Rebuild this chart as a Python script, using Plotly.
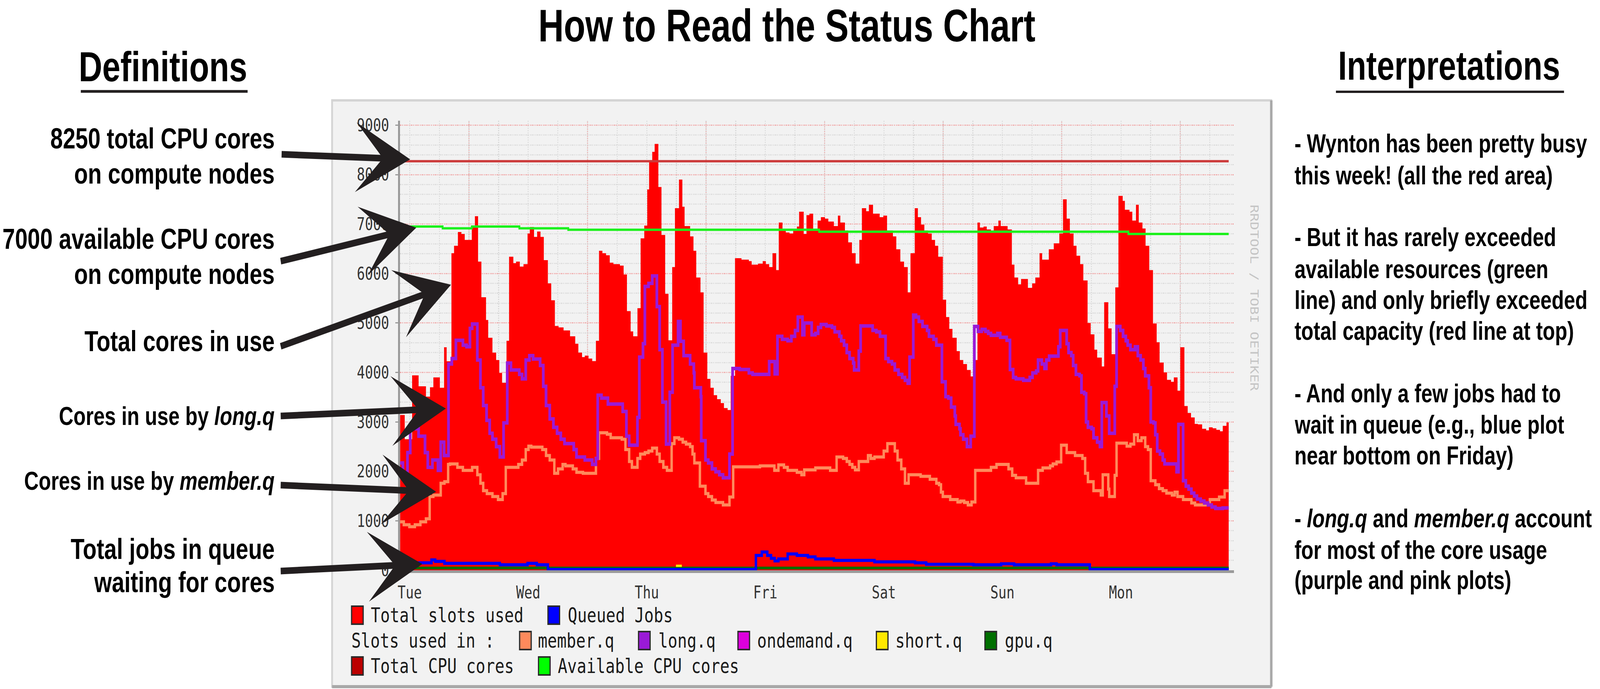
import plotly.graph_objects as go

W, H = 5247, 1764

# ---- values (hours from Tuesday 00:00, cores) ----
days = ["Tue", "Wed", "Thu", "Fri", "Sat", "Sun", "Mon"]
day_hours = [0, 24, 48, 72, 96, 120, 144]
noon_hours = [12, 36, 60, 84, 108, 132, 156]
y_ticks = [0, 1000, 2000, 3000, 4000, 5000, 6000, 7000, 8000, 9000]

start_hour = -1.95
end_hour = 165.81
grid_end_hour = 166.9
y_top = 9090

total_hours = [
    -1.95, -1.01, 0.49, 1.80, 3.29, 4.11, 4.79, 6.10, 6.96, 7.48, 8.45, 8.98, 9.76, 10.47,
    11.14, 12.57, 13.20, 13.84, 14.51, 15.45, 15.89, 16.75, 17.50, 18.14, 18.70, 19.60,
    20.12, 20.98, 21.54, 22.29, 23.04, 23.86, 24.31, 25.17, 25.80, 26.48, 27.15, 27.97,
    28.65, 29.39, 30.14, 31.15, 32.46, 33.51, 34.14, 34.89, 35.45, 36.20, 36.95, 37.70,
    38.33, 39.01, 39.75, 40.50, 41.25, 42.56, 43.31, 43.98, 44.73, 45.25, 46.11, 46.75,
    47.49, 48.09, 48.47, 49.10, 49.59, 50.34, 50.97, 51.72, 52.39, 53.14, 53.70, 54.52,
    55.20, 55.65, 56.77, 57.45, 58.01, 58.87, 59.50, 60.25, 60.89, 61.56, 62.23, 62.98,
    63.62, 64.36, 65.00, 65.86, 67.17, 68.66, 69.23, 70.53, 71.47, 72.10, 72.78, 73.45,
    74.20, 74.72, 75.47, 76.14, 76.89, 77.64, 78.39, 78.84, 79.77, 80.33, 80.93, 81.68,
    82.58, 83.25, 84.07, 84.75, 85.87, 86.69, 87.18, 88.11, 88.78, 89.53, 90.28, 91.03,
    91.55, 92.41, 92.97, 93.80, 95.14, 95.89, 96.64, 97.83, 98.51, 99.33, 100.08, 100.83,
    101.39, 102.25, 102.88, 103.52, 104.19, 104.94, 105.69, 106.36, 107.00, 107.93, 108.60,
    109.24, 109.88, 110.74, 111.37, 112.07, 112.82, 113.57, 114.13, 114.95, 115.44, 116.18,
    116.82, 117.68, 118.24, 119.18, 119.66, 121.05, 121.91, 122.43, 123.18, 123.78, 125.16,
    126.02, 126.66, 127.52, 128.04, 129.39, 130.40, 131.52, 132.27, 133.01, 133.65, 134.40,
    135.00, 135.74, 136.38, 137.24, 137.87, 138.62, 139.18, 140.12, 140.60, 141.43, 142.10,
    142.85, 143.49, 144.35, 144.79, 145.73, 146.29, 147.04, 147.60, 148.35, 148.98, 149.73,
    150.48, 151.23, 151.82, 152.65, 153.32, 154.14, 154.70, 155.45, 156.01, 156.84, 157.51,
    158.18, 158.93, 159.57, 160.43, 161.25, 161.81, 162.56, 163.31, 164.05, 164.61, 165.36,
]
total_cores = [
    3140, 2650, 3940, 3720, 3510, 3700, 3900, 3690, 4510, 4225, 6410, 6560, 6840, 6800,
    6680, 6930, 7160, 6240, 5520, 5060, 4700, 4400, 4250, 3990, 3790, 4640,
    6340, 6210, 6240, 6140, 6190, 6810, 6940, 6740, 6850, 6740, 6270, 5800,
    5460, 4940, 4910, 4850, 4730, 4580, 4400, 4310, 4340, 4280, 4230, 4640,
    6460, 6410, 6370, 6220, 6190, 6160, 5980, 5240, 4830, 4730, 5300, 6710,
    6970, 7700, 8270, 8460, 8620, 7750, 6780, 5590, 4650, 6130, 7320, 7900,
    7350, 6960, 6750, 6460, 5920, 5620, 4400, 3870, 3690, 3540, 3460, 3380,
    3280, 3240, 3930, 6310, 6280, 6250, 6180, 6200, 6250, 6190, 6130, 6410,
    6070, 7030, 6900, 6830, 6810, 6870, 6950, 7250, 6800, 7180, 7210, 6870,
    7070, 7140, 7110, 7050, 6960, 7170, 7030, 6870, 6630, 6410, 6200, 6680,
    7320, 7260, 7390, 7210, 7140, 7170, 6870, 6750, 6490, 6240, 6130, 5620,
    6410, 7320, 7140, 6990, 6870, 6810, 6680, 6560, 6340, 5470, 5120,
    4880, 4700, 4430, 4250, 4170, 4050, 3920, 4250, 7030, 6930, 6950,
    6890, 6870, 6960, 7070, 6960, 6890, 6180, 5920, 5780, 5890, 5710,
    5800, 5920, 6410, 6280, 6490, 6610, 6810, 7500, 7110, 6810, 6560,
    6360, 6190, 5860, 5000, 4770, 4460, 4300, 4120, 5420, 4890, 4370,
    5720, 7570, 7470, 7290, 7250, 7070, 7390, 7030, 6910, 6560, 6070,
    4990, 4610, 4200, 4000, 3850, 3810, 3900, 3630, 4510, 3320, 3180,
    3090, 2960, 2950, 2860, 2830, 2890, 2870, 2840, 2810, 2920, 2990,
]

long_hours = [
    -1.95, -1.38, -0.45, 0.11, 1.05, 1.80, 3.10, 3.66, 4.60, 5.72, 6.28, 6.96, 7.85, 8.53,
    9.35, 10.77, 11.52, 12.19, 12.64, 13.69, 14.32, 14.88, 15.56, 16.19, 16.75, 17.50,
    18.25, 19.00, 19.75, 20.49, 22.18, 22.74, 23.49, 24.23, 24.98, 26.40, 27.04, 27.60,
    28.35, 29.09, 29.84, 30.59, 31.34, 33.21, 33.77, 35.45, 36.95, 37.70, 38.07, 38.82,
    40.13, 43.12, 43.87, 44.43, 46.11, 46.48, 47.23, 47.61, 48.35, 49.10, 50.04, 50.60,
    51.16, 51.91, 52.65, 53.22, 54.34, 54.82, 55.46, 56.77, 57.52, 57.63, 58.94, 59.02,
    59.88, 60.44, 61.19, 61.93, 62.68, 63.43, 64.74, 65.37, 66.80, 68.66, 69.41, 72.78,
    73.90, 74.46, 75.40, 76.52, 77.27, 78.01, 78.58, 79.51, 79.88, 81.38, 82.13, 82.69,
    83.25, 84.37, 85.49, 86.05, 86.99, 87.36, 87.93, 88.48, 89.05, 89.79, 89.98, 90.92,
    91.29, 93.72, 94.47, 95.22, 96.34, 96.90, 97.65, 98.21, 98.96, 99.70, 100.27, 100.83,
    101.20, 101.95, 102.51, 103.07, 103.82, 104.75, 105.13, 106.06, 106.62, 107.75, 108.49,
    109.05, 109.62, 110.36, 110.55, 111.30, 111.51, 112.07, 112.82, 113.57, 114.31, 115.06,
    115.81, 116.56, 117.12, 117.68, 118.99, 119.55, 120.86, 121.53, 122.17, 122.73, 124.22,
    125.53, 126.09, 126.84, 127.22, 127.97, 128.53, 128.90, 129.46, 131.33, 131.70, 133.01,
    133.39, 133.95, 134.32, 134.88, 135.63, 136.00, 136.57, 136.94, 137.31, 138.06, 138.44,
    139.18, 139.75, 140.12, 141.05, 141.62, 142.74, 143.11, 143.86, 144.42, 144.98, 145.36,
    145.92, 146.85, 147.41, 147.98, 148.53, 148.91, 149.66, 150.03, 150.59, 150.96, 151.34,
    151.90, 152.46, 152.83, 155.26, 155.64, 156.58, 157.13, 157.70, 158.26, 158.82, 159.38,
    160.13, 160.87, 161.62, 162.37, 163.12, 164.61,
]
long_cores = [
    2170, 1930, 2380, 2950, 2860, 2710, 2380, 2080, 2230, 2020, 2590, 2320, 4170, 4280,
    4650, 4550, 4520, 4890, 4980, 4250, 3690, 3330, 3030, 2770, 2650, 2500,
    2290, 2980, 4190, 4050, 3960, 3870, 4250, 4340, 4270, 4140, 3720, 3330,
    3060, 2890, 2770, 2650, 2560, 2440, 2290, 2230, 2140, 2260, 3540, 3480,
    3360, 3210, 2710, 2530, 3090, 4310, 4580, 5740, 5800, 5950, 5330, 4460,
    3400, 2550, 3600, 4550, 5030, 4630, 4340, 4170, 3990, 3690, 3510, 2620,
    2230, 2170, 2050, 1990, 1930, 1870, 2350, 4080, 4060, 3990, 3960, 4220,
    3970, 4730, 4670, 4640, 4730, 4850, 5120, 4760, 5000, 4760, 4790, 4910,
    4970, 4940, 4910, 4820, 4730, 4640, 4550, 4400, 4280, 4190, 4050, 4430,
    4940, 4850, 4820, 4730, 4280, 4220, 4170, 4050, 3960, 3900, 3840, 3780,
    4310, 5160, 5120, 5030, 4930, 4850, 4730, 4670, 4550, 3810, 3510,
    3480, 3300, 3120, 2950, 2860, 2740, 2650, 2500, 2710, 4930, 4830,
    4870, 4830, 4790, 4750, 4790, 4710, 4650, 4060, 3900, 3870, 3840,
    3900, 3990, 4030, 4250, 4170, 4080, 4250, 4330, 4520, 4850, 4580,
    4400, 4340, 4140, 3960, 3930, 3600, 3570, 3000, 2890, 2860, 2680,
    2590, 2500, 3390, 3120, 2770, 3720, 4930, 4850, 4730, 4640, 4550,
    4460, 4520, 4340, 4250, 4080, 3930, 3690, 3000, 2980, 2740, 2410,
    2350, 2230, 2150, 1990, 2950, 1810, 1700, 1640, 1560, 1500, 1440,
    1400, 1360, 1320, 1280, 1250, 1260,
]

member_hours = [
    -1.95, -1.20, -0.07, 1.05, 2.17, 3.29, 4.04, 4.79, 6.28, 7.03, 7.78, 8.15, 9.65, 10.77,
    12.64, 13.69, 14.32, 14.88, 15.63, 16.75, 17.88, 18.81, 19.45, 21.99, 22.74, 23.49,
    24.05, 24.61, 26.85, 27.60, 28.35, 29.28, 30.03, 30.96, 31.53, 33.02, 33.77, 35.08,
    37.70, 38.33, 39.94, 40.69, 42.93, 43.68, 44.43, 44.99, 46.11, 46.67, 47.61, 48.35,
    49.10, 50.04, 50.60, 51.35, 52.09, 53.03, 53.59, 54.52, 55.27, 55.95, 56.77, 57.26,
    57.63, 58.75, 59.88, 60.44, 61.19, 61.93, 63.43, 64.74, 65.49, 70.91, 73.83, 74.65,
    75.77, 76.52, 78.39, 79.32, 79.88, 82.13, 85.12, 86.43, 87.74, 88.49, 89.05, 89.61,
    90.17, 90.92, 92.79, 93.35, 94.10, 95.97, 96.71, 98.21, 98.77, 99.52, 100.27, 101.01,
    103.44, 105.31, 106.62, 107.18, 107.56, 107.93, 109.43, 110.92, 111.51, 112.26, 113.01,
    113.75, 114.50, 117.68, 118.80, 121.23, 121.98, 122.73, 124.79, 127.22, 128.15, 129.65,
    130.21, 130.96, 131.89, 133.01, 134.70, 136.19, 136.75, 137.31, 138.44, 139.93, 140.31,
    141.43, 141.62, 142.74, 143.11, 145.17, 145.92, 146.66, 147.41, 148.16, 148.91, 149.47,
    150.03, 150.96, 151.71, 152.46, 153.21, 154.33, 154.89, 155.45, 156.58, 158.26, 159.00,
    162.00, 163.87, 164.99,
]
member_cores = [
    980, 920, 880, 920, 980, 1040, 1490, 1520, 1760, 1790, 2140, 2150, 2080, 2020,
    2080, 1930, 1760, 1610, 1550, 1490, 1430, 1550, 2080, 2140, 2230, 2440,
    2510, 2490, 2440, 2320, 2230, 1960, 2050, 2140, 2110, 2050, 1980, 1960,
    2260, 2780, 2750, 2680, 2650, 2440, 2200, 2080, 2260, 2350, 2380, 2410,
    2470, 2350, 2200, 2080, 2020, 2560, 2680, 2650, 2590, 2550, 2500, 2350,
    2170, 1700, 1550, 1490, 1420, 1370, 1320, 1480, 2090, 2110, 2020, 2130,
    2080, 2020, 1980, 1930, 2030, 2070, 2020, 2290, 2260, 2200, 2140, 2080,
    2030, 2200, 2320, 2260, 2290, 2410, 2560, 2410, 2230, 2050, 1760, 1930,
    1900, 1840, 1760, 1730, 1580, 1490, 1430, 1380, 1400, 1370, 1320,
    1380, 2020, 2080, 2140, 2050, 1920, 1870, 1760, 2020, 2070, 2110,
    2150, 2190, 2530, 2380, 2320, 2260, 1960, 1790, 1610, 1520, 1930,
    1640, 1490, 1920, 2570, 2510, 2550, 2740, 2620, 2680, 2500, 2440,
    1810, 1730, 1650, 1610, 1560, 1520, 1580, 1490, 1430, 1360, 1320,
    1430, 1480, 1610,
]

queued_hours = [
    -1.95, 4.41, 5.16, 7.03, 18.25, 23.86, 25.73, 27.97, 70.09, 71.28, 72.40, 73.15, 73.90,
    74.65, 76.52, 78.39, 80.63, 82.13, 85.87, 94.10, 102.32, 104.57, 114.13, 119.74, 122.36,
    129.84, 130.96, 137.69,
]
queued_jobs = [
    150, 210, 180, 140, 110, 140, 110, 15, 300, 370, 300, 240, 190,
    230, 330, 300, 270, 230, 200, 170, 150, 120, 110, 130, 110,
    130, 110, 15,
]

avail_hours = [-1.95, 6.66, 12.57, 22.2, 32.1, 82.9, 145.5]
avail_cores = [6950, 6915, 6950, 6915, 6885, 6845, 6800]

total_cpu_cores = 8270
gpu_cores = 45
short_hours = [53.9, 55.1]
short_cores = [90, 90]

colors = {
    "total": "#ff0000", "queued": "#0000ff", "member": "#ff8a5c", "long": "#9a1ad6",
    "ondemand": "#dd00dd", "short": "#ffe800", "gpu": "#006f00",
    "total_cpu": "#bb0000", "avail": "#00ff00",
}

TXT = "Liberation Sans, Arial, sans-serif"
MONO = "DejaVu Sans Mono, monospace"


def px(x):
    return x / W


def py(y):
    return 1 - y / H


def stairs(hours, values):
    return hours + [end_hour], values + [values[-1]]


fig = go.Figure()

x, y = stairs(total_hours, total_cores)
fig.add_trace(go.Scatter(x=x, y=y, mode="lines", line=dict(shape="hv", width=0, color=colors["total"]),
                         fill="tozeroy", fillcolor=colors["total"]))
fig.add_trace(go.Scatter(x=[start_hour, end_hour], y=[gpu_cores, gpu_cores], mode="lines",
                         line=dict(color=colors["gpu"], width=7)))
fig.add_trace(go.Scatter(x=short_hours, y=short_cores, mode="lines",
                         line=dict(color=colors["short"], width=6)))
x, y = stairs(member_hours, member_cores)
fig.add_trace(go.Scatter(x=x, y=y, mode="lines", line=dict(shape="hv", width=8, color=colors["member"])))
x, y = stairs(long_hours, long_cores)
fig.add_trace(go.Scatter(x=x, y=y, mode="lines", line=dict(shape="hv", width=9, color=colors["long"])))
x, y = stairs(queued_hours, queued_jobs)
fig.add_trace(go.Scatter(x=x, y=y, mode="lines", line=dict(shape="hv", width=8, color=colors["queued"])))
fig.add_trace(go.Scatter(x=[start_hour, end_hour], y=[total_cpu_cores, total_cpu_cores], mode="lines",
                         line=dict(color="#cc3a3a", width=6)))
x, y = stairs(avail_hours, avail_cores)
fig.add_trace(go.Scatter(x=x, y=y, mode="lines", line=dict(shape="hv", width=6, color="#1cf01c")))

# axis arrow heads
fig.add_trace(go.Scatter(x=[start_hour, grid_end_hour + 0.9], y=[y_top + 80, 0], mode="markers",
                         marker=dict(symbol=["triangle-up", "triangle-right"], size=24, color="#8b1a1a"),
                         cliponaxis=False))

# frame behind the rrd graph
fig.add_shape(type="rect", xref="paper", yref="paper", x0=px(1089), x1=px(4169), y0=py(1758), y1=py(257),
              fillcolor="#f2f2f2", line=dict(color="#d4d4d4", width=6), layer="below")
fig.add_shape(type="line", xref="paper", yref="paper", x0=px(4169), x1=px(4169), y0=py(1758), y1=py(257),
              line=dict(color="#a8a8a8", width=8), layer="below")
fig.add_shape(type="line", xref="paper", yref="paper", x0=px(1089), x1=px(4169), y0=py(1758), y1=py(1758),
              line=dict(color="#a8a8a8", width=8), layer="below")

# red dotted major grid at noon
for h in noon_hours:
    fig.add_shape(type="line", xref="x", yref="y", x0=h, x1=h, y0=0, y1=y_top,
                  line=dict(color="#f0a0a0", width=3, dash="dot"), layer="below")

fig.update_layout(
    width=W, height=H, autosize=False,
    margin=dict(l=0, r=0, t=0, b=0, pad=0, autoexpand=False),
    paper_bgcolor="white", plot_bgcolor="white", showlegend=False,
    xaxis=dict(
        domain=[px(1312), px(4047)], range=[start_hour, grid_end_hour],
        tickvals=day_hours, ticktext=days, ticks="", ticklabelstandoff=12,
        tickfont=dict(family=MONO, size=44, color="#333333"),
        showgrid=True, gridcolor="#d8d8d8", griddash="dot", gridwidth=3,
        minor=dict(dtick=6, tick0=0, showgrid=True, gridcolor="#d8d8d8", griddash="dot", gridwidth=3),
        showline=True, linecolor="#9a9a9a", linewidth=7, zeroline=False,
    ),
    yaxis=dict(
        domain=[py(1460), py(309)], range=[0, y_top],
        tickvals=y_ticks, ticktext=[str(v) for v in y_ticks],
        ticks="outside", ticklen=8, tickwidth=3, tickcolor="#9a9a9a", ticklabelstandoff=12,
        tickfont=dict(family=MONO, size=44, color="#333333"),
        showgrid=True, gridcolor="#f0a0a0", griddash="dot", gridwidth=3,
        minor=dict(dtick=200, tick0=0, showgrid=True, gridcolor="#d8d8d8", griddash="dot", gridwidth=3),
        showline=True, linecolor="#9a9a9a", linewidth=7, zeroline=False,
    ),
)

# watermark
fig.add_annotation(x=px(4136), y=py(522), xref="paper", yref="paper", text="RRDTOOL / TOBI OETIKER",
                   textangle=90, showarrow=False, font=dict(family=MONO, size=36, color="#c4c4c4"))

# rrd legend
legend_rows = [
    (1575, [("total", 1153, 1218, "Total slots used"), ("queued", 1797, 1864, "Queued Jobs")]),
    (1640, [("member", 1704, 1766, "member.q"), ("long", 2094, 2161, "long.q"),
            ("ondemand", 2420, 2485, "ondemand.q"), ("short", 2874, 2938, "short.q"),
            ("gpu", 3230, 3297, "gpu.q")]),
    (1705, [("total_cpu", 1153, 1218, "Total CPU cores"), ("avail", 1766, 1831, "Available CPU cores")]),
]
fig.add_annotation(x=px(1150), y=py(1640), xref="paper", yref="paper", text="Slots used in :",
                   xanchor="left", yanchor="middle", showarrow=False,
                   font=dict(family=MONO, size=52, color="#1a1a1a"))
for yc, entries in legend_rows:
    for key, bx, tx, label in entries:
        fig.add_shape(type="rect", xref="paper", yref="paper", x0=px(bx), x1=px(bx + 38),
                      y0=py(yc + 23), y1=py(yc - 23), fillcolor=colors[key],
                      line=dict(color="#2a2a2a", width=4))
        fig.add_annotation(x=px(tx - 4), y=py(yc), xref="paper", yref="paper", text=label,
                           xanchor="left", yanchor="middle", showarrow=False,
                           font=dict(family=MONO, size=52, color="#1a1a1a"))

# headings
fig.add_annotation(x=px(2580), y=1, xref="paper", yref="paper", text="<b>How to Read the Status Chart</b>",
                   showarrow=False, xanchor="center", yanchor="top", borderpad=0,
                   font=dict(family=TXT, size=116, color="black"))
fig.add_annotation(x=px(534), y=py(171), xref="paper", yref="paper", text="<b>Definitions</b>",
                   showarrow=False, xanchor="center", yanchor="middle", font=dict(family=TXT, size=107, color="black"))
fig.add_annotation(x=px(4752), y=py(168), xref="paper", yref="paper", text="<b>Interpretations</b>",
                   showarrow=False, xanchor="center", yanchor="middle", font=dict(family=TXT, size=104, color="black"))
fig.add_shape(type="line", xref="paper", yref="paper", x0=px(265), x1=px(812), y0=py(234), y1=py(234),
              line=dict(color="#231f20", width=7))
fig.add_shape(type="line", xref="paper", yref="paper", x0=px(4381), x1=px(5129), y0=py(235), y1=py(235),
              line=dict(color="#231f20", width=6))

# definitions on the left
left_lines = [
    ("8250 total CPU cores", 355, 74), ("on compute nodes", 444, 74),
    ("7000 available CPU cores", 611, 74), ("on compute nodes", 701, 74),
    ("Total cores in use", 873, 74),
    ("Cores in use by <i>long.q</i>", 1065, 66),
    ("Cores in use by <i>member.q</i>", 1231, 66),
    ("Total jobs in queue", 1405, 74), ("waiting for cores", 1490, 74),
]
for text, yc, size in left_lines:
    fig.add_annotation(x=px(903), y=py(yc), xref="paper", yref="paper", text="<b>" + text + "</b>",
                       showarrow=False, xanchor="right", yanchor="middle",
                       font=dict(family=TXT, size=size, color="black"))

arrows = [
    (922, 395, 1345, 408), (919, 669, 1365, 583), (919, 887, 1479, 729),
    (919, 1065, 1462, 1046), (919, 1242, 1430, 1259), (919, 1462, 1385, 1444),
]
for tx, ty, hx, hy in arrows:
    fig.add_annotation(x=px(hx), y=py(hy), xref="paper", yref="paper", ax=tx - hx, ay=ty - hy,
                       axref="pixel", ayref="pixel", text="", showarrow=True, arrowhead=3,
                       arrowsize=1.75, arrowwidth=17, arrowcolor="#231f20", standoff=0)

# interpretations on the right
right_lines = [
    ("- Wynton has been pretty busy", 367), ("this week! (all the red area)", 449),
    ("- But it has rarely exceeded", 607), ("available resources (green", 689),
    ("line) and only briefly exceeded", 768), ("total capacity (red line at top)", 847),
    ("- And only a few jobs had to", 1007), ("wait in queue (e.g., blue plot", 1087),
    ("near bottom on Friday)", 1166),
    ("- <i>long.q</i> and <i>member.q</i> account", 1327), ("for most of the core usage", 1408),
    ("(purple and pink plots)", 1485),
]
for text, yc in right_lines:
    fig.add_annotation(x=px(4243), y=py(yc), xref="paper", yref="paper", text="<b>" + text + "</b>",
                       showarrow=False, xanchor="left", yanchor="middle",
                       font=dict(family=TXT, size=66, color="black"))

# stretch the fixed-size figure over the whole browser viewport
fit_js = """
var gd = document.getElementById('{plot_id}');
var sx = window.innerWidth / %d, sy = window.innerHeight / %d;
document.documentElement.style.overflow = 'hidden';
document.body.style.margin = '0';
document.body.style.overflow = 'hidden';
document.body.style.width = window.innerWidth + 'px';
document.body.style.height = window.innerHeight + 'px';
gd.style.transformOrigin = '0 0';
gd.style.transform = 'scale(' + sx + ',' + sy + ')';
""" % (W, H)

fig.write_html("out.html", post_script=fit_js, config={"displayModeBar": False})
